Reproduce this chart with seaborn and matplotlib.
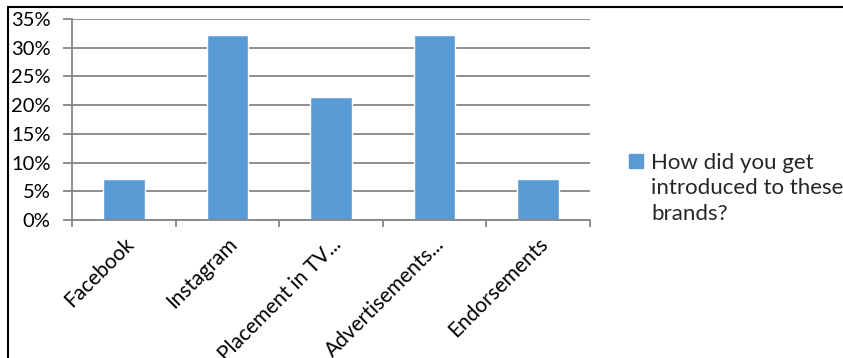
import matplotlib
matplotlib.use("Agg")
import matplotlib.pyplot as plt
import seaborn as sns
import pandas as pd
from matplotlib.ticker import PercentFormatter, FixedLocator
from matplotlib.patches import Rectangle
from matplotlib.lines import Line2D

categories = ["Facebook", "Instagram", "Placement in TV...", "Advertisements...", "Endorsements"]
values = [0.0714, 0.3214, 0.2143, 0.3214, 0.0714]
series_name = "How did you get\nintroduced to these\nbrands?"
yticks = [0, 0.05, 0.10, 0.15, 0.20, 0.25, 0.30, 0.35]

sns.set_theme(style="white")
plt.rcParams['font.family'] = ['Lato', 'DejaVu Sans']

W, H = 843, 358
fig = plt.figure(figsize=(W/100, H/100), dpi=100)
ax = fig.add_axes([72/W, 1-220/H, (590-72)/W, (220-19)/H])

df = pd.DataFrame({"cat": categories, "val": values})
sns.barplot(data=df, x="cat", y="val", color="#5B9BD5", width=0.4, ax=ax,
            saturation=1)

grid_c = "#868686"
ax.set_ylim(0, 0.35)
ax.set_xlim(-0.5, len(categories)-0.5)
ax.yaxis.set_major_locator(FixedLocator(yticks))
ax.yaxis.set_major_formatter(PercentFormatter(1.0, decimals=0))
ax.set_axisbelow(True)
ax.grid(axis="y", color=grid_c, lw=1.3)
ax.grid(axis="x", visible=False)
for s in ["top", "right"]:
    ax.spines[s].set_visible(False)
for s in ["left", "bottom"]:
    ax.spines[s].set_color(grid_c)
    ax.spines[s].set_linewidth(1.3)
ax.set_xlabel("")
ax.set_ylabel("")
ax.tick_params(axis="y", left=True, length=6.5, width=1.3, color=grid_c,
               labelsize=14.5, labelcolor="black", pad=9)
ax.set_xticks(range(len(categories)))
ax.set_xticklabels(categories, rotation=45, ha="right", rotation_mode="anchor",
                   fontsize=15, color="black")
ax.tick_params(axis="x", which="major", length=0, pad=10)
ax.set_xticks([i-0.5 for i in range(len(categories)+1)], minor=True)
ax.tick_params(axis="x", which="minor", bottom=True, length=5, width=1.3, color=grid_c)

handle = Line2D([], [], marker="s", linestyle="none", markersize=9.5,
                markerfacecolor="#5B9BD5", markeredgecolor="#5B9BD5")
leg = fig.legend([handle], [series_name], loc="upper left",
                 bbox_to_anchor=(628/W, 1-153/H), frameon=False, fontsize=16,
                 handlelength=0.75, handletextpad=0.3, borderaxespad=0, borderpad=0)
for t in leg.get_texts():
    t.set_linespacing(1.33)
try:
    for col in leg._legend_handle_box.get_children():
        for item in col.get_children():
            item.align = "top"
except Exception:
    pass

fig.patches.append(Rectangle((8/W, -0.1), 1.2, 1-7/H+0.1, transform=fig.transFigure,
                             fill=False, edgecolor="black", lw=1.5))

fig.savefig("out.png", dpi=100, facecolor="white")
